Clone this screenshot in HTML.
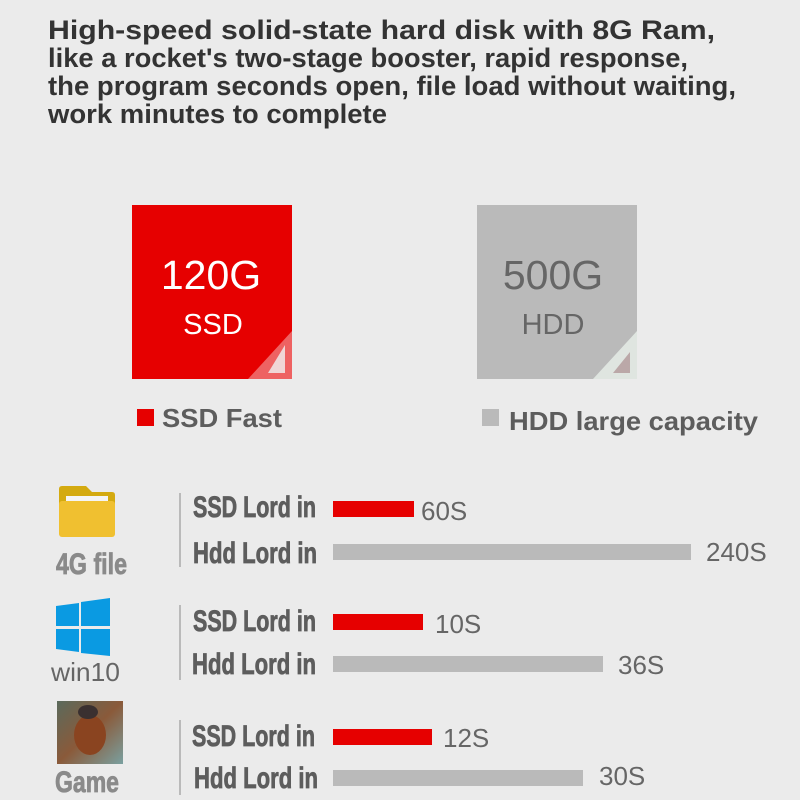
<!DOCTYPE html>
<html><head><meta charset="utf-8"><style>
html,body{margin:0;padding:0;background:#ebebeb;}
svg{display:block}
.t{font-family:"Liberation Sans",sans-serif;font-weight:bold;fill:#333;font-size:27px}
.l{font-family:"Liberation Sans Narrow","Liberation Sans",sans-serif;font-weight:bold;fill:#5d5d5d;font-size:30px;stroke:#5d5d5d;stroke-width:0.8}
.v{font-family:"Liberation Sans",sans-serif;fill:#666;font-size:26px}
</style></head><body>
<svg width="800" height="800" viewBox="0 0 800 800" xmlns="http://www.w3.org/2000/svg">
<rect width="800" height="800" fill="#ebebeb"/>
<text class="t" x="48" y="39" textLength="667" lengthAdjust="spacingAndGlyphs">High-speed solid-state hard disk with 8G Ram,</text>
<text class="t" x="48" y="67" textLength="640" lengthAdjust="spacingAndGlyphs">like a rocket's two-stage booster, rapid response,</text>
<text class="t" x="48" y="95" textLength="688" lengthAdjust="spacingAndGlyphs">the program seconds open, file load without waiting,</text>
<text class="t" x="48" y="123" textLength="339" lengthAdjust="spacingAndGlyphs">work minutes to complete</text>

<rect x="132" y="205" width="160" height="174" fill="#e60000"/>
<polygon points="292,331 292,379 248,379" fill="#ee6262"/>
<polygon points="285,345 285,373 268,373" fill="#f0d6d6"/>
<text x="211" y="289" text-anchor="middle" font-family="Liberation Sans,sans-serif" font-size="41" fill="#fff">120G</text>
<text x="213" y="334" text-anchor="middle" font-family="Liberation Sans,sans-serif" font-size="29" fill="#fff">SSD</text>

<rect x="477" y="205" width="160" height="174" fill="#bababa"/>
<polygon points="637,331 637,379 593,379" fill="#dfe5e0"/>
<polygon points="630,352 630,373 613,373" fill="#bba8a8"/>
<text x="553" y="289" text-anchor="middle" font-family="Liberation Sans,sans-serif" font-size="41" fill="#666">500G</text>
<text x="553" y="334" text-anchor="middle" font-family="Liberation Sans,sans-serif" font-size="29" fill="#666">HDD</text>

<rect x="137" y="409" width="17" height="17" fill="#e60000"/>
<text x="162" y="427" font-family="Liberation Sans,sans-serif" font-weight="bold" font-size="26" fill="#5d5d5d" textLength="120" lengthAdjust="spacingAndGlyphs">SSD Fast</text>
<rect x="482" y="409" width="17" height="17" fill="#bababa"/>
<text x="509" y="430" font-family="Liberation Sans,sans-serif" font-weight="bold" font-size="26" fill="#5d5d5d" textLength="249" lengthAdjust="spacingAndGlyphs">HDD large capacity</text>

<path d="M59,489 Q59,486 62,486 L86,486 L92,492 L112,492 Q115,492 115,495 L115,520 L59,520 Z" fill="#d4aa10"/>
<rect x="66" y="496" width="42" height="6" fill="#f4f4f4"/>
<rect x="59" y="501" width="56" height="36" rx="3" fill="#f0c030"/>
<text class="l" x="56" y="574" style="fill:#8a8a8a;stroke:#8a8a8a" textLength="71" lengthAdjust="spacingAndGlyphs">4G file</text>

<polygon points="56,606 79,603 79,626 56,626" fill="#0a9ae2"/>
<polygon points="81,602 110,598 110,626 81,626" fill="#0a9ae2"/>
<polygon points="56,629 79,629 79,652 56,649" fill="#0a9ae2"/>
<polygon points="81,629 110,629 110,656 81,653" fill="#0a9ae2"/>
<text x="51" y="681" font-family="Liberation Sans,sans-serif" font-size="26" fill="#666" textLength="69" lengthAdjust="spacingAndGlyphs">win10</text>

<defs><linearGradient id="g" x1="0" y1="0" x2="1" y2="1"><stop offset="0" stop-color="#5a6a5c"/><stop offset="0.5" stop-color="#8a5a3a"/><stop offset="1" stop-color="#7aa0a0"/></linearGradient></defs>
<rect x="57" y="701" width="66" height="63" fill="url(#g)"/>
<ellipse cx="90" cy="735" rx="16" ry="20" fill="#8a4420"/>
<ellipse cx="88" cy="712" rx="10" ry="7" fill="#3a3030"/>
<text class="l" x="55" y="792" style="fill:#8a8a8a;stroke:#8a8a8a" textLength="64" lengthAdjust="spacingAndGlyphs">Game</text>

<g stroke="#aaa" stroke-width="1.5">
<line x1="180" y1="493" x2="180" y2="567"/>
<line x1="180" y1="605" x2="180" y2="680"/>
<line x1="180" y1="720" x2="180" y2="795"/>
</g>

<g>
<text class="l" x="193" y="517" textLength="123" lengthAdjust="spacingAndGlyphs">SSD Lord in</text>
<text class="l" x="193" y="563" textLength="124" lengthAdjust="spacingAndGlyphs">Hdd Lord in</text>
<rect x="333" y="501" width="81" height="16" fill="#e60000"/>
<rect x="333" y="544" width="358" height="16" fill="#bababa"/>
<text class="v" x="421" y="520">60S</text>
<text class="v" x="706" y="561">240S</text>

<text class="l" x="193" y="631" textLength="123" lengthAdjust="spacingAndGlyphs">SSD Lord in</text>
<text class="l" x="192" y="674" textLength="124" lengthAdjust="spacingAndGlyphs">Hdd Lord in</text>
<rect x="333" y="614" width="90" height="16" fill="#e60000"/>
<rect x="333" y="656" width="270" height="16" fill="#bababa"/>
<text class="v" x="435" y="633">10S</text>
<text class="v" x="618" y="674">36S</text>

<text class="l" x="192" y="746" textLength="123" lengthAdjust="spacingAndGlyphs">SSD Lord in</text>
<text class="l" x="194" y="788" textLength="124" lengthAdjust="spacingAndGlyphs">Hdd Lord in</text>
<rect x="333" y="729" width="99" height="16" fill="#e60000"/>
<rect x="333" y="770" width="250" height="16" fill="#bababa"/>
<text class="v" x="443" y="747">12S</text>
<text class="v" x="599" y="785">30S</text>
</g>
</svg>
</body></html>
